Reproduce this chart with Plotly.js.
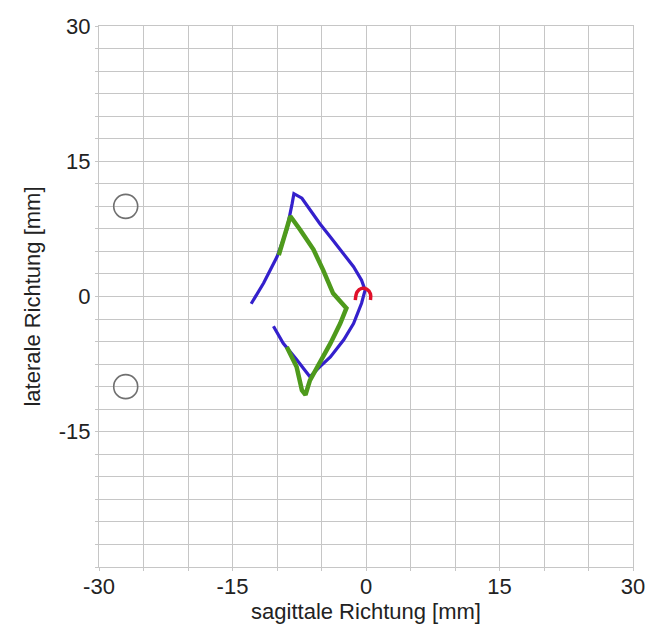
<!DOCTYPE html>
<html>
<head>
<meta charset="utf-8">
<script src="https://cdn.plot.ly/plotly-3.0.1.min.js"></script>
<style>html,body{margin:0;padding:0;background:#fff;}#chart{width:652px;height:626px;}</style>
</head>
<body>
<div id="chart"></div>
<script>
// Data (mm)
const blueX = [-12.9, -11.5, -10.0, -8.9, -8.3, -8.1, -7.2, -6.3, -5.2, -4.0, -2.9, -1.4, -0.5, -0.1, -0.5, -1.4, -2.5, -4.0, -5.2, -6.3, -7.8, -9.3, -10.4];
const blueY = [-0.8, 1.5, 4.4, 7.4, 10.3, 11.4, 10.9, 9.6, 8.1, 6.6, 5.2, 3.3, 1.8, 0.7, -0.75, -3.0, -4.8, -6.7, -7.8, -8.9, -7.0, -5.2, -3.3];
const greenX = [-9.8, -8.5, -7.4, -5.9, -4.8, -3.7, -2.2, -2.9, -4.0, -5.2, -6.3, -6.8, -7.2, -7.8, -8.9];
const greenY = [4.6, 8.9, 7.4, 5.2, 2.9, 0.35, -1.3, -3.0, -5.2, -7.4, -9.3, -10.9, -10.4, -7.8, -5.6];
const redX = [-1.2, -1.0, -0.5, 0.1, 0.5, 0.5];
const redY = [-0.4, 0.5, 0.9, 0.8, 0.3, -0.4];
const circleX = [-27, -27];
const circleY = [10, -10];
const xTicks = [-30, -15, 0, 15, 30];
const yTicks = [-15, 0, 15, 30];

const font = {family: 'Liberation Sans, Arial, sans-serif', size: 22, color: '#222'};
const grid = '#c6c6c6';

const traces = [
  {x: circleX, y: circleY, mode: 'markers', type: 'scatter',
   marker: {symbol: 'circle-open', size: 24, color: '#707070', line: {width: 1.6, color: '#707070'}}, hoverinfo: 'skip'},
  {x: blueX, y: blueY, mode: 'lines', type: 'scatter', line: {color: '#3420cc', width: 3.2}},
  {x: greenX, y: greenY, mode: 'lines', type: 'scatter', line: {color: '#4e9a1c', width: 4.5}},
  {x: redX, y: redY, mode: 'lines', type: 'scatter', line: {color: '#e0102a', width: 3.5, shape: 'spline'}}
];

const layout = {
  width: 652, height: 626,
  margin: {l: 99, r: 19, t: 26, b: 59},
  paper_bgcolor: '#fff', plot_bgcolor: '#fff',
  showlegend: false,
  font: font,
  xaxis: {
    range: [-30, 30], tickmode: 'array', tickvals: xTicks, ticktext: xTicks.map(String),
    showgrid: true, gridcolor: grid, gridwidth: 1, zeroline: false,
    showline: true, mirror: true, linecolor: grid, linewidth: 1,
    ticks: '', ticklen: 0,
    minor: {tick0: -30, dtick: 5, showgrid: true, gridcolor: grid, gridwidth: 1, ticks: 'outside', ticklen: 3, tickcolor: grid},
    tickfont: font,
    title: {text: 'sagittale Richtung [mm]', font: font, standoff: 0}
  },
  yaxis: {
    range: [-30, 30], tickmode: 'array', tickvals: yTicks, ticktext: yTicks.map(String),
    showgrid: true, gridcolor: grid, gridwidth: 1, zeroline: false,
    showline: true, mirror: true, linecolor: grid, linewidth: 1,
    ticks: 'outside', ticklen: 3, tickcolor: grid,
    minor: {tick0: -30, dtick: 2.5, showgrid: true, gridcolor: grid, gridwidth: 1, ticks: 'outside', ticklen: 3, tickcolor: grid},
    tickfont: font,
    title: {text: 'laterale Richtung [mm]', font: font, standoff: 12}
  }
};

Plotly.newPlot('chart', traces, layout, {displayModeBar: false, staticPlot: true});
</script>
</body>
</html>
